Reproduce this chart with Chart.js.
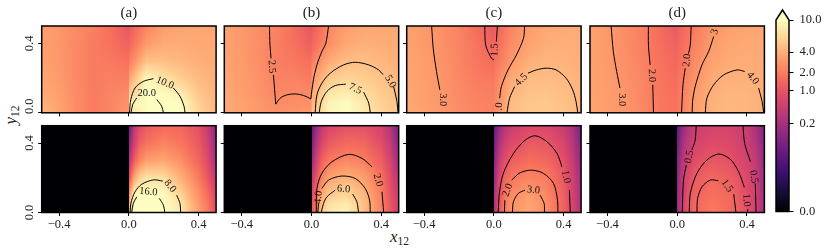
<!DOCTYPE html>
<html>
<head>
<title>Heatmaps</title>
<script src="https://cdn.jsdelivr.net/npm/chart.js"></script>
<style>
    html, body { margin: 0; padding: 0; background: #fff; }
    #wrap { position: relative; width: 830px; height: 249px; overflow: hidden; }
    #wrap canvas { position: absolute; }
    .axlabel { position: absolute; font: italic 17px 'Liberation Serif', serif; color: #222; white-space: nowrap; }
    .axlabel sub { font: 11.5px 'Liberation Serif', serif; vertical-align: -3px; line-height: 0; }
</style>
</head>
<body>
<div id="wrap">
    <div class="axlabel" style="left:390px;top:227px">x<sub>12</sub></div>
    <div class="axlabel" style="left:1px;top:105px;transform:rotate(-90deg)">y<sub>12</sub></div>
</div>
<script>
// grid positions of the estimated values
const topXs = [-0.5, -0.4, -0.3, -0.2, -0.1, -0.001, 0.001, 0.1, 0.2, 0.3, 0.4, 0.5];
const topYs = [0, 0.05, 0.1, 0.2, 0.3, 0.4, 0.5];
const botXs = [0, 0.03, 0.06, 0.1, 0.2, 0.3, 0.4, 0.45, 0.5];
const botYs = [0, 0.05, 0.1, 0.2, 0.3, 0.4, 0.5];

// values, one line per y, y = 0 first
const gridA1 = [
    [4.5, 3.5, 2.5, 2.0, 2.3, 3.0, 7, 40, 20, 11, 6.5, 4.5],
    [4.2, 3.4, 2.5, 2.0, 2.3, 2.8, 9, 32, 18, 10, 6, 4.3],
    [3.9, 3.3, 2.5, 2.0, 2.3, 2.6, 6, 20, 13, 8.5, 5.5, 4.2],
    [3.6, 3.1, 2.4, 2.0, 2.1, 2.1, 3.5, 9.5, 7.5, 5.8, 4.6, 4.0],
    [3.4, 3.0, 2.4, 2.0, 1.9, 1.7, 2.0, 5, 4.8, 4.4, 4, 3.8],
    [3.3, 2.9, 2.4, 2.0, 1.7, 1.3, 1.4, 3, 3.8, 3.8, 3.7, 3.7],
    [3.3, 3, 2.5, 2.1, 1.6, 1.0, 1.1, 2.3, 3.2, 3.5, 3.6, 3.6]
];
const gridB1 = [
    [3.8, 3.4, 3.0, 2.7, 2.9, 3.1, 4.5, 9.5, 10.5, 8.3, 6.3, 5],
    [3.8, 3.4, 3.0, 2.55, 2.6, 2.75, 4.2, 9, 10, 8, 6, 5.1],
    [3.7, 3.3, 2.8, 2.4, 2.5, 2.5, 3.7, 8, 8.7, 7.2, 5.8, 4.8],
    [3.6, 3.2, 2.7, 2.2, 2.2, 2.0, 2.9, 5.5, 6.2, 5.8, 5.1, 4.4],
    [3.5, 3.1, 2.6, 2.1, 1.9, 1.6, 2.0, 3.8, 4.7, 4.8, 4.4, 4.0],
    [3.4, 3.0, 2.6, 2.1, 1.7, 1.2, 1.4, 2.6, 3.7, 4, 3.9, 3.8],
    [3.4, 3.0, 2.6, 2.2, 1.6, 1.0, 1.1, 2.4, 3.2, 3.6, 3.7, 3.7]
];
const gridC1 = [
    [3.8, 3.4, 3.0, 2.6, 2.3, 2.2, 2.3, 4.8, 5.4, 5.5, 5.1, 4.4],
    [3.7, 3.3, 2.97, 2.55, 2.25, 2.2, 2.3, 4.7, 5.3, 5.4, 5, 4.4],
    [3.7, 3.3, 2.93, 2.5, 2.2, 2.1, 2.2, 4.4, 5.1, 5.2, 4.9, 4.3],
    [3.6, 3.25, 2.85, 2.4, 2.0, 1.9, 2.0, 3.8, 4.6, 4.7, 4.5, 4.2],
    [3.5, 3.15, 2.75, 2.3, 1.85, 1.55, 1.65, 2.95, 4, 4.3, 4.2, 4.0],
    [3.4, 3.1, 2.7, 2.25, 1.75, 1.3, 1.4, 2.5, 3.4, 3.9, 4, 3.9],
    [3.4, 3.05, 2.7, 2.2, 1.6, 1.1, 1.15, 2.3, 3.2, 3.7, 3.8, 3.9]
];
const gridD1 = [
    [3.5, 3.25, 2.95, 2.4, 1.85, 1.75, 1.85, 3.1, 4.2, 4.5, 4.35, 4.0],
    [3.5, 3.25, 2.93, 2.4, 1.85, 1.7, 1.85, 3.1, 4.15, 4.45, 4.3, 4],
    [3.5, 3.2, 2.9, 2.35, 1.85, 1.65, 1.8, 3.05, 4.05, 4.4, 4.3, 4],
    [3.45, 3.15, 2.75, 2.3, 1.8, 1.55, 1.7, 2.8, 3.75, 4.1, 4.05, 3.9],
    [3.4, 3.1, 2.65, 2.2, 1.75, 1.4, 1.55, 2.5, 3.4, 3.8, 3.85, 3.8],
    [3.35, 3.05, 2.6, 2.15, 1.65, 1.25, 1.4, 2.2, 3.1, 3.55, 3.7, 3.7],
    [3.35, 3, 2.6, 2.1, 1.55, 1.1, 1.2, 2.0, 2.8, 3.3, 3.5, 3.6]
];
const gridA2 = [
    [5, 25, 30, 30, 17, 8, 3.2, 2, 0.9],
    [4, 17, 25, 26, 15, 7.5, 3, 1.9, 0.8],
    [2.5, 10, 16, 18, 12, 6.2, 2.7, 1.6, 0.7],
    [0.8, 3.5, 6, 7.5, 7, 4, 2, 1.1, 0.4],
    [0.25, 1.2, 2.3, 3.2, 3.6, 2.6, 1.4, 0.8, 0.2],
    [0.08, 0.55, 1.2, 1.7, 2.2, 1.8, 1.1, 0.6, 0.12],
    [0.025, 0.35, 0.75, 1.1, 1.5, 1.4, 0.9, 0.45, 0.08]
];
const gridB2 = [
    [1.0, 2.3, 6.2, 8, 9, 5, 2.3, 1.1, 0.5],
    [0.9, 2.1, 5, 7.2, 8.2, 4.8, 2.2, 1.1, 0.5],
    [0.7, 1.8, 3.7, 5.5, 6.6, 4.4, 2.1, 1, 0.45],
    [0.35, 1, 2.2, 3.4, 4.2, 3.3, 1.7, 0.85, 0.3],
    [0.12, 0.6, 1.3, 1.9, 2.4, 2.1, 1.2, 0.65, 0.15],
    [0.05, 0.3, 0.7, 1.1, 1.5, 1.4, 0.85, 0.45, 0.08],
    [0.02, 0.15, 0.4, 0.65, 0.9, 0.9, 0.6, 0.3, 0.05]
];
const gridC2 = [
    [0.25, 0.85, 2, 2.8, 3.6, 2.6, 1.3, 0.65, 0.25],
    [0.22, 0.85, 1.9, 2.7, 3.5, 2.6, 1.3, 0.65, 0.25],
    [0.2, 0.8, 1.7, 2.5, 3.2, 2.4, 1.25, 0.6, 0.22],
    [0.12, 0.65, 1.3, 1.8, 2.3, 2, 1.1, 0.55, 0.18],
    [0.07, 0.45, 0.85, 1.2, 1.6, 1.45, 0.9, 0.45, 0.12],
    [0.04, 0.25, 0.5, 0.75, 1.1, 1.05, 0.65, 0.33, 0.08],
    [0.02, 0.12, 0.28, 0.45, 0.7, 0.72, 0.45, 0.22, 0.05]
];
const gridD2 = [
    [0.15, 0.5, 0.95, 1.4, 1.9, 1.55, 0.9, 0.55, 0.2],
    [0.15, 0.5, 0.95, 1.4, 1.85, 1.5, 0.9, 0.55, 0.2],
    [0.13, 0.45, 0.9, 1.3, 1.7, 1.45, 0.85, 0.52, 0.18],
    [0.1, 0.42, 0.75, 1.1, 1.45, 1.2, 0.75, 0.48, 0.15],
    [0.07, 0.3, 0.55, 0.85, 1.05, 0.95, 0.62, 0.4, 0.12],
    [0.04, 0.2, 0.38, 0.6, 0.8, 0.75, 0.5, 0.3, 0.09],
    [0.02, 0.12, 0.27, 0.45, 0.6, 0.6, 0.45, 0.22, 0.06]
];

// contour lines in data units, each inner list is one unbroken piece
const linesA1 = [
    [[.003,0],[.011,.076],[.035,.143],[.083,.181],[.141,.197]],
    [[.255,.143],[.293,.095],[.316,.038],[.322,0]],
    [[.012,0],[.022,.048],[.045,.086]],
    [[.16,.076],[.188,.038],[.198,0]]
];
const textA1 = [['10.0',.207,.172,22],['20.0',.102,.111,0]];
const linesB1 = [
    [[-.241,.5],[-.238,.39],[-.232,.314]],
    [[-.218,.218],[-.205,.05]],
    [[-.205,.05],[-.18,.084],[-.142,.103],[-.094,.109],[-.046,.1],[-.004,.08]],
    [[-.004,.08],[.011,.19],[.031,.276],[.059,.352],[.082,.4],[.098,.5]],
    [[.021,0],[.031,.103],[.059,.17],[.107,.228],[.184,.276],[.251,.291],[.328,.276],[.385,.247],[.41,.22]],
    [[.471,.151],[.49,.065],[.496,0]],
    [[.044,0],[.056,.065],[.088,.123],[.136,.157],[.197,.165]],
    [[.299,.119],[.328,.056],[.337,0]]
];
const textB1 = [['2.5',-.228,.266,85],['5.0',.452,.18,60],['7.5',.251,.138,25]];
const linesC1 = [
    [[-.357,.5],[-.348,.372],[-.329,.238],[-.31,.132]],
    [[-.052,.5],[-.047,.39],[-.014,.314],[.001,.305]],
    [[.02,.5],[.014,.41]],
    [[.176,.5],[.17,.43],[.129,.333],[.081,.247],[.043,.151],[.033,.084]],
    [[.075,0],[.09,.084],[.119,.151]],
    [[.195,.228],[.243,.247],[.3,.257],[.357,.247],[.414,.199],[.452,.132],[.471,.065],[.481,0]]
];
const textC1 = [['3.0',-.296,.075,90],['1.5',.005,.362,-88],['.0',.03,.036,-85],['4.5',.157,.19,-45]];
const linesD1 = [
    [[-.379,.5],[-.366,.352],[-.347,.238],[-.328,.142]],
    [[-.165,.5],[-.165,.39],[-.155,.276]],
    [[-.14,.161],[-.136,0]],
    [[.08,.5],[.075,.39],[.065,.341]],
    [[.046,.257],[.033,.161],[.025,0]],
    [[.209,.439],[.18,.352],[.142,.276],[.103,.151],[.088,.065],[.086,0]],
    [[.161,0],[.17,.084],[.209,.161],[.266,.218],[.343,.247],[.387,.238]],
    [[.467,.142],[.487,.065],[.496,0]]
];
const textD1 = [['3.0',-.318,.075,90],['2.0',-.146,.215,88],['2.0',.056,.303,-85],['3',.215,.467,-75],['4.0',.433,.199,50]];
const linesA2 = [
    [[.007,0],[.011,.052],[.035,.119],[.074,.163],[.141,.188],[.194,.181]],
    [[.274,.1],[.293,.052],[.297,0]],
    [[.016,0],[.025,.052],[.045,.09]],
    [[.175,.081],[.198,.042],[.206,0]]
];
const textA2 = [['8.0',.236,.152,50],['16.0',.112,.119,5]];
const linesB2 = [
    [[.027,0],[.031,.138],[.059,.225],[.117,.292],[.213,.335],[.289,.312],[.347,.263]],
    [[.404,.119],[.414,0]],
    [[.036,0],[.04,.052]],
    [[.059,.138],[.098,.187],[.174,.21],[.251,.196],[.308,.138],[.333,.071],[.337,0]],
    [[.056,0],[.069,.052],[.088,.09],[.136,.129]],
    [[.236,.106],[.26,.062],[.27,0]]
];
const textB2 = [['2.0',.381,.187,75],['4.0',.04,.087,-85],['6.0',.184,.135,5]];
const linesC2 = [
    [[.025,0],[.031,.11],[.054,.225],[.112,.34],[.179,.417],[.237,.442],[.304,.408],[.362,.34],[.39,.263]],
    [[.433,.129],[.438,0]],
    [[.06,0],[.063,.071]],
    [[.102,.187],[.15,.229],[.217,.244],[.285,.225],[.342,.167],[.365,.071],[.367,0]],
    [[.106,0],[.112,.062],[.14,.11],[.179,.129]],
    [[.265,.1],[.288,.052],[.29,0]]
];
const textC2 = [['1.0',.413,.206,80],['2.0',.079,.129,-70],['3.0',.227,.129,5]];
const linesD2 = [
    [[.109,.5],[.103,.417],[.084,.36]],
    [[.052,.273],[.036,.187],[.029,0]],
    [[.377,.5],[.387,.398],[.42,.292]],
    [[.448,.167],[.452,0]],
    [[.069,0],[.075,.11],[.113,.225],[.17,.302],[.238,.337],[.305,.306],[.352,.235],[.385,.145]],
    [[.404,.02],[.404,0]],
    [[.113,0],[.117,.081],[.142,.148],[.19,.187],[.236,.183]],
    [[.324,.106],[.337,0]]
];
const textD2 = [['0.5',.069,.321,-80],['0.5',.439,.206,80],['1.0',.397,.071,85],['1.5',.285,.154,55]];

const panelTitles = ['(a)', '(b)', '(c)', '(d)'];
const xTickVals = [-0.4, 0, 0.4];
const yTickVals = [0, 0.4];
const barLevels = [0, 0.0005, 0.002, 0.005, 0.01, 0.03, 0.06, 0.1, 0.2, 0.3, 0.5, 0.8, 1, 1.4, 2, 2.7, 4, 5.5, 7.5, 10];
const barTickVals = [0, 0.2, 1, 2, 4, 10];

const magma = ['#000004', '#140e36', '#3b0f70', '#641a80', '#8c2981', '#b73779', '#de4968', '#f7705c', '#fe9f6d', '#fecf92', '#fcfdbf']
    .map(h => [1, 3, 5].map(i => parseInt(h.substr(i, 2), 16)));
const norm = v => Math.min(1, Math.pow(Math.max(v, 0) / 10, 0.2));

function colorAt(t) {
    const p = Math.min(t, 0.9999) * 10, i = Math.floor(p), f = p - i;
    return magma[i].map((c, k) => c + (magma[i + 1][k] - c) * f);
}

function findCell(list, v) {
    if (v < list[0] || v > list[list.length - 1]) return -1;
    let i = 0;
    while (i < list.length - 2 && v > list[i + 1]) i++;
    return i;
}

// paints the value grid of dataset 0 through the chart's scales, shaded between values
const heatPlugin = {
    id: 'heat',
    beforeDatasetsDraw(chart, args, opts) {
        const { ctx, chartArea: a, scales } = chart;
        const left = Math.round(a.left), top = Math.round(a.top);
        const w = Math.round(a.right) - left, h = Math.round(a.bottom) - top;
        const off = document.createElement('canvas');
        off.width = w; off.height = h;
        const octx = off.getContext('2d'), img = octx.createImageData(w, h);
        const { xs, ys, grid } = opts;
        for (let py = 0; py < h; py++) {
            const yv = scales.y.getValueForPixel(top + py + 0.5), j = findCell(ys, yv);
            for (let px = 0; px < w; px++) {
                const xv = scales.x.getValueForPixel(left + px + 0.5), i = findCell(xs, xv);
                let c = magma[0];
                if (i >= 0 && j >= 0) {
                    const fx = (xv - xs[i]) / (xs[i + 1] - xs[i]), fy = (yv - ys[j]) / (ys[j + 1] - ys[j]);
                    const t0 = norm(grid[j][i]) * (1 - fx) + norm(grid[j][i + 1]) * fx;
                    const t1 = norm(grid[j + 1][i]) * (1 - fx) + norm(grid[j + 1][i + 1]) * fx;
                    c = colorAt(t0 * (1 - fy) + t1 * fy);
                }
                const o = (py * w + px) * 4;
                img.data[o] = c[0]; img.data[o + 1] = c[1]; img.data[o + 2] = c[2]; img.data[o + 3] = 255;
            }
        }
        octx.putImageData(img, 0, 0);
        ctx.drawImage(off, left, top);
    }
};

// frame, contour numbers, panel title and the rotated y tick labels
const panelPlugin = {
    id: 'panel',
    afterDraw(chart, args, opts) {
        const { ctx, chartArea: a, scales } = chart;
        ctx.save();
        ctx.strokeStyle = '#000';
        ctx.lineWidth = 1.5;
        ctx.strokeRect(a.left, a.top, a.right - a.left, a.bottom - a.top);
        ctx.fillStyle = '#111';
        ctx.textAlign = 'center';
        ctx.textBaseline = 'middle';
        ctx.font = "10.5px 'Liberation Serif', serif";
        opts.labels.forEach(l => {
            ctx.save();
            ctx.translate(scales.x.getPixelForValue(l[1]), scales.y.getPixelForValue(l[2]));
            ctx.rotate(l[3] * Math.PI / 180);
            ctx.fillText(l[0], 0, 0);
            ctx.restore();
        });
        ctx.fillStyle = '#222';
        if (opts.title) {
            ctx.font = "15px 'Liberation Serif', serif";
            ctx.fillText(opts.title, (a.left + a.right) / 2, 11.5);
        }
        if (opts.yLabels) {
            ctx.font = "12.5px 'Liberation Serif', serif";
            yTickVals.forEach(v => {
                ctx.save();
                ctx.translate(a.left - 11.5, scales.y.getPixelForValue(v) - (v === 0 ? opts.zeroShift : 0));
                ctx.rotate(-Math.PI / 2);
                ctx.fillText(v.toFixed(1), 0, 0);
                ctx.restore();
            });
        }
        ctx.restore();
    }
};

const colLeft = [41.7, 224.3, 406.7, 590];
const rowTop = [26, 125.7];
const boxW = 174.4, boxH = 86.8;
const wrap = document.getElementById('wrap');

function addCanvas(left, top, width, height) {
    const c = document.createElement('canvas');
    c.width = width; c.height = height;
    c.style.left = left + 'px'; c.style.top = top + 'px';
    c.style.width = width + 'px'; c.style.height = height + 'px';
    wrap.appendChild(c);
    return c;
}

function drawPanel(col, row, grid, lines, labels) {
    const cl = Math.floor(colLeft[col]) - 30, ct = Math.floor(rowTop[row]) - 24;
    const cw = 214;
    const padTop = rowTop[row] - ct, mL = colLeft[col] - cl;
    const mB = row === 1 ? 24 : 14;
    const height = Math.round(padTop + boxH + mB);
    const xs = row === 0 ? topXs : botXs, ys = row === 0 ? topYs : botYs;
    const datasets = lines.map(seg => ({
        data: seg.map(p => ({ x: p[0], y: p[1] })),
        showLine: true, pointRadius: 0, borderColor: '#000', borderWidth: 1, tension: 0.3
    }));
    const canvas = addCanvas(cl, ct, cw, height);
    new Chart(canvas, {
        type: 'scatter',
        data: { datasets },
        plugins: [heatPlugin, panelPlugin],
        options: {
            responsive: false,
            animation: false,
            events: [],
            layout: { padding: { top: padTop, right: cw - mL - boxW, left: 0, bottom: 0 } },
            plugins: {
                legend: { display: false },
                tooltip: { enabled: false },
                heat: { xs, ys, grid },
                panel: { labels, title: row === 0 ? panelTitles[col] : null, yLabels: col === 0, zeroShift: row === 0 ? 6.5 : 0 }
            },
            scales: {
                x: {
                    type: 'linear', min: -0.5, max: 0.5,
                    border: { display: false },
                    grid: { drawOnChartArea: false, color: '#000', tickLength: 3.5, tickWidth: 1 },
                    afterBuildTicks: s => { s.ticks = xTickVals.map(v => ({ value: v })); },
                    afterFit: s => { s.height = height - padTop - boxH; },
                    ticks: {
                        display: row === 1, autoSkip: false, maxRotation: 0, padding: 1, color: '#222',
                        font: { family: "'Liberation Serif', serif", size: 12.5 },
                        callback: v => (v < 0 ? '\u2212' : '') + Math.abs(v).toFixed(1)
                    }
                },
                y: {
                    type: 'linear', min: 0, max: 0.5,
                    border: { display: false },
                    grid: { drawOnChartArea: false, color: '#000', tickLength: 3.5, tickWidth: 1 },
                    afterBuildTicks: s => { s.ticks = yTickVals.map(v => ({ value: v })); },
                    afterFit: s => { s.width = mL; },
                    ticks: { display: false }
                }
            }
        }
    });
}

drawPanel(0, 0, gridA1, linesA1, textA1);
drawPanel(1, 0, gridB1, linesB1, textB1);
drawPanel(2, 0, gridC1, linesC1, textC1);
drawPanel(3, 0, gridD1, linesD1, textD1);
drawPanel(0, 1, gridA2, linesA2, textA2);
drawPanel(1, 1, gridB2, linesB2, textB2);
drawPanel(2, 1, gridC2, linesC2, textC2);
drawPanel(3, 1, gridD2, linesD2, textD2);

// colour bar: y axis runs on the normalised value so the ticks land as in the picture
const barOutline = {
    id: 'barOutline',
    afterDraw(chart) {
        const { ctx, chartArea: a } = chart;
        ctx.save();
        ctx.beginPath();
        ctx.moveTo(a.left, a.bottom);
        ctx.lineTo(a.left, a.top);
        ctx.lineTo((a.left + a.right) / 2, a.top - 10);
        ctx.lineTo(a.right, a.top);
        ctx.lineTo(a.right, a.bottom);
        ctx.closePath();
        ctx.strokeStyle = '#000';
        ctx.lineWidth = 1.5;
        ctx.stroke();
        ctx.restore();
    },
    beforeDatasetsDraw(chart) {
        const { ctx, chartArea: a } = chart;
        ctx.save();
        ctx.beginPath();
        ctx.moveTo(a.left, a.top + 0.5);
        ctx.lineTo((a.left + a.right) / 2, a.top - 10);
        ctx.lineTo(a.right, a.top + 0.5);
        ctx.closePath();
        ctx.fillStyle = '#fcfdbf';
        ctx.fill();
        ctx.restore();
    }
};

const barCanvas = addCanvas(770, 0, 60, 225);
new Chart(barCanvas, {
    type: 'scatter',
    data: { datasets: [{ data: barLevels.map(v => ({ x: 0.5, y: norm(v) })), pointRadius: 0 }] },
    plugins: [heatPlugin, barOutline],
    options: {
        responsive: false,
        animation: false,
        events: [],
        layout: { padding: { top: 20, left: 6, bottom: 11.5, right: 0 } },
        plugins: {
            legend: { display: false },
            tooltip: { enabled: false },
            heat: { xs: [0, 1], ys: barLevels.map(norm), grid: barLevels.map(v => [v, v]) }
        },
        scales: {
            x: { type: 'linear', display: false, min: 0, max: 1 },
            y: {
                type: 'linear', position: 'right', min: 0, max: 1,
                border: { display: false },
                grid: { drawOnChartArea: false, color: '#000', tickLength: 4.5, tickWidth: 1 },
                afterBuildTicks: s => { s.ticks = barTickVals.map(v => ({ value: norm(v) })); },
                afterFit: s => { s.width = 41; },
                ticks: {
                    autoSkip: false, padding: 6, color: '#222',
                    font: { family: "'Liberation Serif', serif", size: 12.5 },
                    callback: (v, i) => barTickVals[i].toFixed(1)
                }
            }
        }
    }
});
</script>
</body>
</html>
